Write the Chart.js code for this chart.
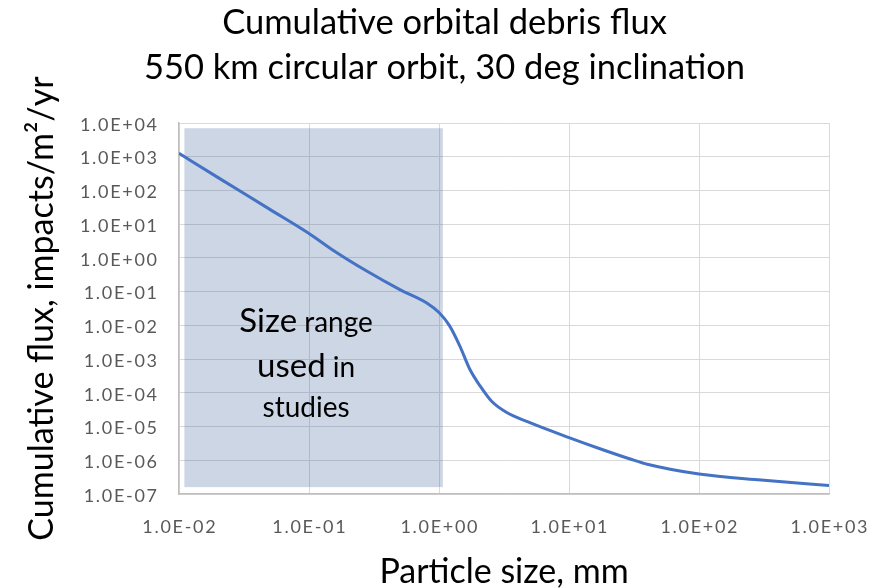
<!DOCTYPE html>
<html>
<head>
<meta charset="utf-8">
<script src="https://cdn.jsdelivr.net/npm/chart.js@4.4.1/dist/chart.umd.min.js"></script>
<style>
  html, body { margin: 0; padding: 0; background: #fff; }
  #wrap { width: 889px; height: 588px; }
</style>
</head>
<body>
<div id="wrap"><canvas id="fluxChart" width="889" height="588"></canvas></div>
<script>
// Particle size (mm) and cumulative flux (impacts/m2/yr)
const sizeMm = [0.01, 0.02, 0.05, 0.1, 0.15, 0.28, 0.5, 0.8, 1.0, 1.2, 1.45, 1.73, 2.07, 2.54, 3.32, 5, 10, 17.3, 30, 40, 100, 300, 1000];
const fluxPerM2Yr = [1260, 240, 27.5, 5.3, 1.78, 0.40, 0.115, 0.047, 0.024, 0.010, 2.4e-3, 4.9e-4, 1.6e-4, 5.6e-5, 2.6e-5, 1.3e-5, 4.7e-6, 2.2e-6, 1.07e-6, 7.6e-7, 3.9e-7, 2.6e-7, 1.8e-7];

// axis ticks
const xTickValues = [1e-2, 1e-1, 1e0, 1e1, 1e2, 1e3];
const xTickLabels = ["1.0E-02", "1.0E-01", "1.0E+00", "1.0E+01", "1.0E+02", "1.0E+03"];
const yTickValues = [1e-7, 1e-6, 1e-5, 1e-4, 1e-3, 1e-2, 1e-1, 1e0, 1e1, 1e2, 1e3, 1e4];
const yTickLabels = ["1.0E-07", "1.0E-06", "1.0E-05", "1.0E-04", "1.0E-03", "1.0E-02", "1.0E-01",
                     "1.0E+00", "1.0E+01", "1.0E+02", "1.0E+03", "1.0E+04"];

// shaded "size range used in studies" box (data units)
const studyRangeMm = [0.011, 1.07];
const studyRangeFlux = [1.6e-7, 7000];
const studyLabelLines = [["Size", "range"], ["used", "in"], ["studies"]];
const studyLabelAt = { x: 0.095, y: 6.2e-3 };

const FONT = "Lato";

// Draw the shaded box and its label
const studyRangePlugin = {
  id: "studyRange",
  beforeDatasetsDraw(chart) {
    const { ctx, scales: { x, y } } = chart;
    const x0 = x.getPixelForValue(studyRangeMm[0]);
    const x1 = x.getPixelForValue(studyRangeMm[1]);
    const y0 = y.getPixelForValue(studyRangeFlux[1]);
    const y1 = y.getPixelForValue(studyRangeFlux[0]);
    ctx.save();
    ctx.fillStyle = "rgba(47, 82, 143, 0.24)";
    ctx.fillRect(x0, y0, x1 - x0, y1 - y0);

    // label: first word of a two-word line is bigger
    const cx = x.getPixelForValue(studyLabelAt.x);
    let baseY = y.getPixelForValue(studyLabelAt.y);
    const gaps = [0, 45, 40];
    ctx.fillStyle = "#000";
    ctx.textBaseline = "alphabetic";
    ctx.textAlign = "left";
    studyLabelLines.forEach((words, i) => {
      baseY += gaps[i];
      const runs = words.map((w, j) => ({
        text: (j > 0 ? " " : "") + w,
        font: (words.length > 1 && j === 0) ? "33px " + FONT : "28px " + FONT
      }));
      let total = 0;
      runs.forEach(r => { ctx.font = r.font; r.w = ctx.measureText(r.text).width; total += r.w; });
      let px = cx - total / 2;
      runs.forEach(r => { ctx.font = r.font; ctx.fillText(r.text, px, baseY); px += r.w; });
    });
    ctx.restore();
  }
};

// Tick labels drawn by hand so they can be spaced out like the original
const tickLabelPlugin = {
  id: "tickLabels",
  afterDraw(chart) {
    const { ctx, scales: { x, y } } = chart;
    const ls = 1.7;
    ctx.save();
    ctx.font = "18px " + FONT;
    ctx.letterSpacing = ls + "px";
    ctx.fillStyle = "#595959";
    ctx.textAlign = "left";
    ctx.textBaseline = "alphabetic";
    yTickValues.forEach((v, i) => {
      const w = ctx.measureText(yTickLabels[i]).width - ls;
      ctx.fillText(yTickLabels[i], 157 - w, y.getPixelForValue(v) + 7.7);
    });
    xTickValues.forEach((v, i) => {
      const w = ctx.measureText(xTickLabels[i]).width - ls;
      ctx.fillText(xTickLabels[i], x.getPixelForValue(v) - w / 2, y.bottom + 39);
    });
    ctx.restore();
  }
};

new Chart(document.getElementById("fluxChart"), {
  type: "line",
  data: {
    datasets: [{
      data: sizeMm.map((s, i) => ({ x: s, y: fluxPerM2Yr[i] })),
      borderColor: "#4472c4",
      borderWidth: 3,
      pointRadius: 0,
      fill: false,
      cubicInterpolationMode: "monotone"
    }]
  },
  options: {
    responsive: false,
    animation: false,
    layout: { padding: 0 },
    plugins: {
      legend: { display: false },
      tooltip: { enabled: false },
      title: {
        display: true,
        text: ["Cumulative orbital debris flux", "550 km circular orbit, 30 deg inclination"],
        color: "#000",
        font: { family: FONT, size: 34.5, weight: "normal", lineHeight: 45 / 34.5 },
        padding: { top: 0, bottom: 33 }
      }
    },
    scales: {
      x: {
        type: "logarithmic",
        min: 1e-2,
        max: 1e3,
        afterBuildTicks: (scale) => { scale.ticks = xTickValues.map(v => ({ value: v })); },
        afterFit: (scale) => { scale.height = 94; },
        ticks: { display: false },
        grid: { color: "#d9d9d9", lineWidth: 1, drawTicks: false },
        border: { display: true, color: "#bfbfbf", width: 1.5 },
        title: {
          display: true,
          text: "Particle size, mm",
          color: "#000",
          font: { family: FONT, size: 34, lineHeight: 0.95 },
          padding: { top: 0, bottom: 0 }
        }
      },
      y: {
        type: "logarithmic",
        min: 1e-7,
        max: 1e4,
        afterBuildTicks: (scale) => { scale.ticks = yTickValues.map(v => ({ value: v })); },
        afterFit: (scale) => { scale.width = 179; },
        ticks: { display: false },
        grid: { color: "#d9d9d9", lineWidth: 1, drawTicks: false },
        border: { display: true, color: "#bfbfbf", width: 1.5 },
        title: {
          display: true,
          text: "Cumulative flux, impacts/m²/yr",
          color: "#000",
          font: { family: FONT, size: 34, lineHeight: 1.2 },
          padding: { top: 22, bottom: 0 }
        }
      },
      // empty right-hand strip so the plot ends where the original does
      yRight: {
        type: "linear",
        position: "right",
        afterFit: (scale) => { scale.width = 60; },
        ticks: { display: false },
        grid: { display: false },
        border: { display: false }
      }
    }
  },
  plugins: [studyRangePlugin, tickLabelPlugin]
});
</script>
</body>
</html>
